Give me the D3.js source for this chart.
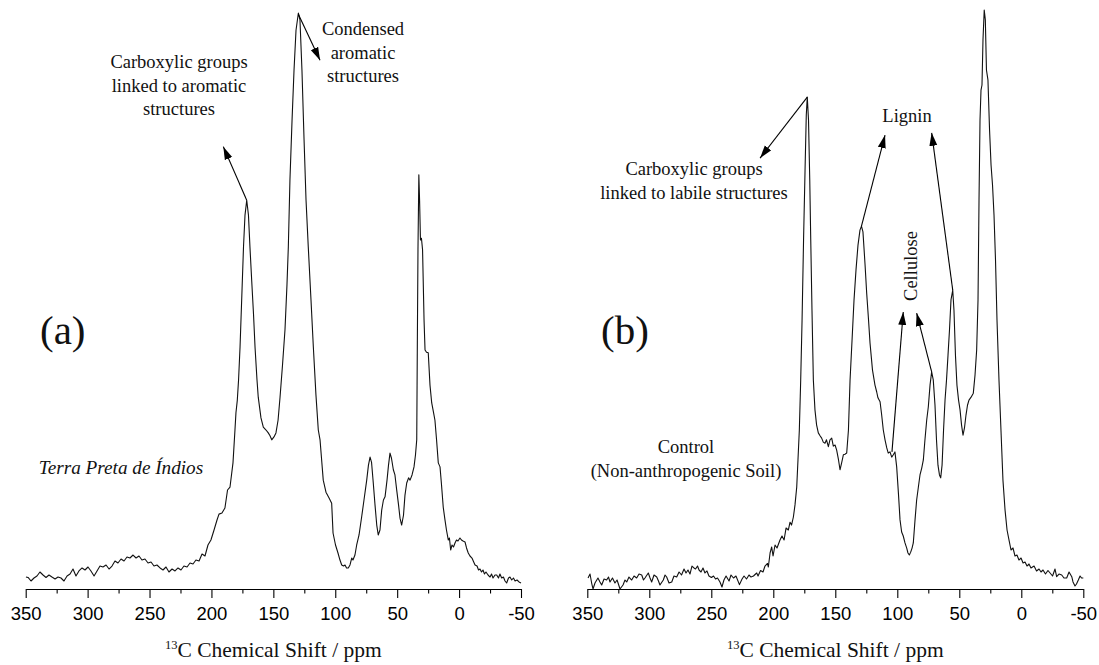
<!DOCTYPE html>
<html><head><meta charset="utf-8">
<script src="https://cdn.jsdelivr.net/npm/d3@7"></script>
<style>body{margin:0;background:#fff} svg{display:block;background:#fff}</style>
</head><body><svg id="c" width="1099" height="665"></svg>
<script>
// ---- DATA ----
// (a) Terra Preta de Índios : [ppm, intensity (a.u., max = 100)]
const spectrumA = [[349.8,2.08],[348.1,2.0],[345.7,1.39],[343.3,1.91],[340.9,2.26],[338.5,2.95],[336.0,2.43],[333.6,2.0],[331.2,2.43],[328.8,2.08],[326.3,1.74],[323.9,2.08],[321.5,1.91],[319.1,1.39],[316.6,2.26],[314.2,2.6],[311.8,3.47],[309.4,2.26],[307.0,3.13],[304.5,3.65],[302.1,3.3],[299.7,3.82],[297.3,3.13],[294.8,2.26],[292.4,3.13],[290.0,3.99],[287.6,3.82],[285.1,4.17],[282.7,3.47],[280.3,3.99],[277.9,4.86],[275.5,4.51],[273.0,5.21],[270.6,4.86],[268.2,5.56],[265.8,5.38],[263.3,5.9],[260.9,5.38],[258.5,5.73],[256.1,5.03],[253.7,5.21],[251.2,4.51],[248.8,4.69],[246.4,3.99],[244.0,4.17],[241.5,3.65],[239.1,3.3],[236.7,3.82],[234.3,2.95],[231.8,3.47],[229.4,3.13],[227.0,3.65],[224.6,3.3],[222.2,3.99],[219.7,3.82],[217.3,4.51],[214.9,4.34],[212.5,5.03],[210.0,4.86],[207.6,6.08],[205.2,5.73],[202.8,7.64],[200.4,8.51],[197.9,10.24],[195.5,11.98],[193.9,13.0],[191.5,13.2],[189.1,14.06],[187.0,17.19],[185.0,17.7],[182.6,21.9],[181.0,27.6],[180.2,30.6],[179.1,32.8],[178.1,36.3],[176.9,42.0],[175.3,51.9],[174.1,59.4],[172.9,64.9],[171.5,67.5],[170.1,64.9],[168.9,59.4],[167.5,53.6],[166.0,47.6],[164.8,42.0],[163.2,36.3],[162.2,33.3],[160.0,29.7],[158.1,28.1],[155.9,27.6],[154.1,27.1],[152.7,26.6],[151.3,25.9],[149.5,26.4],[147.9,27.1],[146.2,29.3],[144.6,33.3],[142.6,38.9],[140.6,45.0],[139.0,52.8],[137.9,59.4],[136.6,71.0],[134.9,81.4],[133.3,90.1],[131.7,97.0],[129.8,100],[128.5,98.8],[126.9,90.1],[125.2,78.0],[123.6,67.5],[121.8,59.4],[119.6,50.2],[117.7,42.0],[115.6,33.7],[113.7,27.6],[112.3,25.9],[111.0,22.4],[109.7,18.9],[107.5,16.8],[105.0,15.8],[102.9,14.9],[101.8,9.72],[99.8,7.64],[97.8,6.25],[96.2,5.03],[94.8,4.17],[93.3,3.99],[92.1,4.17],[90.9,3.65],[89.5,3.65],[88.1,4.17],[86.7,5.38],[85.7,5.03],[84.1,5.9],[82.7,7.64],[80.8,9.38],[78.7,12.5],[76.8,15.45],[74.6,18.9],[73.2,21.5],[71.9,22.9],[70.7,22.0],[69.3,18.4],[67.9,14.6],[66.5,11.1],[65.3,9.38],[63.9,10.24],[62.5,13.7],[61.1,15.45],[59.8,16.0],[58.2,18.9],[57.0,21.5],[55.8,23.6],[54.6,22.7],[53.1,20.7],[51.8,19.8],[50.4,17.2],[48.9,14.6],[47.7,12.3],[46.4,11.1],[44.9,12.8],[43.7,16.3],[42.3,18.4],[40.8,19.3],[39.6,18.9],[38.0,19.8],[36.4,21.2],[35.2,23.3],[34.2,25.9],[33.7,43.2],[33.2,58.9],[32.5,71.9],[31.9,67.5],[31.2,60.6],[30.4,60.9],[29.5,58.9],[28.3,46.7],[27.5,41.5],[26.3,41.1],[24.9,41.0],[23.5,35.4],[22.1,32.3],[20.7,30.7],[19.5,29.3],[18.2,25.9],[16.8,21.9],[15.4,21.2],[14.2,18.1],[12.8,14.2],[11.4,12.0],[10.2,10.24],[8.7,8.5],[7.8,8.85],[6.8,6.77],[5.7,7.64],[4.5,7.29],[3.3,7.99],[2.1,8.5],[0.9,8.33],[-0.7,8.85],[-1.9,8.5],[-3.2,8.33],[-4.8,8.16],[-6.0,7.12],[-7.4,6.25],[-8.8,5.73],[-10.4,5.38],[-11.8,4.69],[-12.9,4.17],[-14.5,3.99],[-15.7,3.3],[-16.9,3.47],[-18.1,2.95],[-19.3,3.3],[-20.5,2.6],[-21.7,2.95],[-23.4,2.43],[-25.0,2.08],[-26.2,2.6],[-27.4,1.91],[-29.0,2.43],[-30.4,2.43],[-31.8,1.91],[-33.0,2.6],[-34.4,1.91],[-35.8,2.08],[-37.1,1.39],[-38.4,1.04],[-39.9,1.91],[-41.1,2.08],[-42.5,1.56],[-43.9,1.91],[-45.2,1.39],[-46.8,1.56],[-48.4,1.22],[-50.0,1.04]];

// (b) Control (non-anthropogenic soil)
const spectrumB = [[349.4,1.91],[347.8,2.6],[346.5,1.04],[345.4,0],[343.8,1.04],[341.4,1.91],[339.8,1.22],[338.4,0.69],[336.5,1.74],[334.4,1.56],[332.9,2.08],[331.7,1.22],[329.7,1.91],[327.7,1.04],[326.0,1.56],[323.6,0],[321.2,0.69],[319.6,1.56],[318.2,1.22],[316.4,2.08],[314.2,1.56],[312.3,2.26],[310.2,1.91],[308.3,2.6],[306.1,2.43],[304.7,1.56],[303.5,1.91],[300.8,2.78],[299.4,1.91],[298.1,1.22],[296.2,2.43],[294.0,2.08],[292.6,1.39],[291.4,0.69],[288.7,1.56],[287.3,2.43],[286.0,2.08],[284.1,1.04],[281.9,1.22],[280.1,2.26],[277.9,2.08],[276.0,2.95],[274.0,2.43],[272.0,3.47],[270.4,2.78],[268.8,3.3],[267.2,2.6],[265.6,3.99],[264.0,3.65],[262.7,3.47],[261.1,3.99],[259.9,3.3],[258.3,2.95],[256.7,3.65],[255.1,2.78],[253.5,3.13],[251.9,2.26],[249.9,2.0],[248.2,2.26],[246.6,1.74],[245.0,1.91],[243.0,1.22],[241.4,0.35],[239.8,1.56],[238.1,2.26],[235.7,1.39],[234.1,2.43],[232.1,1.91],[230.1,2.26],[227.3,0.76],[225.2,1.74],[223.6,2.26],[221.6,1.74],[219.6,2.43],[218.0,2.08],[216.0,2.26],[213.4,2.78],[212.3,2.26],[210.3,3.21],[208.3,2.95],[206.7,3.99],[204.7,4.43],[204.0,3.82],[202.6,6.25],[201.3,7.29],[200.2,5.73],[198.6,7.64],[197.0,7.12],[194.6,8.51],[193.0,9.2],[191.3,8.51],[189.7,10.6],[187.9,10.24],[186.5,11.6],[185.3,11.1],[183.8,12.5],[182.5,14.6],[181.1,17.7],[180.1,22.4],[179.0,27.6],[177.9,36.3],[176.8,46.7],[175.6,60.6],[174.4,72.7],[173.4,82.3],[172.6,85.4],[171.6,81.4],[170.6,71.0],[169.8,60.6],[168.8,48.4],[167.7,36.3],[166.4,31.1],[165.1,28.5],[163.7,27.1],[162.3,26.6],[161.0,26.2],[159.7,25.5],[158.3,25.3],[157.1,25.9],[155.6,24.7],[154.3,25.9],[152.9,26.2],[151.6,24.8],[150.2,25.0],[148.9,24.1],[147.4,22.4],[146.2,20.7],[144.8,22.0],[143.5,23.3],[142.2,23.4],[140.8,23.6],[139.4,27.6],[138.1,36.3],[136.5,43.2],[134.9,50.2],[133.3,55.4],[131.7,59.7],[130.1,62.3],[128.9,63.0],[127.7,62.0],[126.0,56.3],[124.7,51.4],[123.2,46.7],[122.0,42.7],[120.0,38.0],[118.0,35.4],[116.6,34.2],[115.6,33.2],[113.9,32.5],[112.6,30.2],[111.3,27.6],[109.9,25.9],[108.5,24.5],[107.3,23.6],[105.9,23.8],[104.5,22.9],[103.2,23.3],[101.9,23.8],[100.5,21.2],[99.0,16.3],[97.8,12.0],[96.5,9.9],[95.2,9.2],[93.8,8.0],[92.4,7.1],[91.4,6.25],[90.3,5.9],[89.2,6.4],[88.1,7.1],[87.1,8.0],[85.7,12.0],[84.4,15.45],[83.0,17.7],[81.7,19.8],[80.3,21.0],[79.0,22.4],[77.7,25.9],[76.3,29.3],[75.0,31.6],[73.6,35.4],[72.3,37.7],[71.0,36.3],[69.6,31.9],[68.4,25.9],[67.2,21.5],[66.0,19.8],[65.0,19.3],[63.9,21.5],[62.7,27.6],[61.5,32.8],[60.3,36.3],[59.1,40.6],[57.9,45.0],[56.7,50.2],[55.3,51.9],[54.3,48.4],[53.1,40.6],[51.9,35.4],[50.6,32.8],[49.4,31.1],[48.2,28.5],[47.0,26.7],[45.8,28.0],[44.6,30.2],[43.4,31.9],[42.2,32.8],[40.5,33.3],[38.7,34.0],[37.3,37.2],[36.0,41.5],[34.9,50.2],[34.1,67.5],[33.3,81.4],[32.5,86.6],[31.7,87.5],[30.9,95.3],[29.9,100.5],[29.0,98.8],[28.1,90.1],[26.9,88.4],[25.6,79.7],[24.4,73.6],[23.2,70.1],[22.0,64.9],[20.8,57.1],[19.6,46.7],[18.0,36.3],[16.4,27.6],[14.8,18.9],[13.1,13.7],[11.5,10.24],[9.9,8.5],[8.3,6.77],[6.7,7.12],[5.1,5.73],[3.5,5.9],[1.9,5.03],[0.2,5.38],[-1.4,4.51],[-3.0,4.69],[-4.6,3.99],[-6.2,4.34],[-7.8,3.65],[-10.3,3.99],[-12.3,3.13],[-14.3,3.47],[-15.9,2.95],[-17.5,3.3],[-19.5,2.6],[-21.5,3.21],[-23.2,2.78],[-25.2,2.26],[-27.2,3.47],[-28.5,2.14],[-30.4,2.6],[-32.6,2.43],[-34.4,1.91],[-36.6,1.91],[-38.5,2.95],[-40.7,2.14],[-41.7,1.22],[-43.3,0.52],[-44.5,0.87],[-46.0,1.56],[-47.4,2.26],[-48.6,1.91],[-50.0,1.91]];

const majorTicks = [350,300,250,200,150,100,50,0,-50];
const minorTicks = [325,275,225,175,125,75,25,-25];
const axisTitleSup = "13";
const axisTitleMain = "C Chemical Shift / ppm";
const panelLabels = ["(a)", "(b)"];

// arrows: [from ppm, from intensity, to ppm, to intensity]
const arrowsA = [[171.5,67.5,190.4,76.8],[129.8,99.8,112.3,91.8]];
const arrowsB = [[172.6,85.4,210.7,74.8],[128.9,63.0,109.9,78.8],[55.3,51.9,72.3,79.2],[104.3,23.8,95.2,48.1],[72.3,37.7,84.4,47.9]];

const textA = [
  {lines:["Carboxylic groups","linked to aromatic","structures"], x:179, y:68},
  {lines:["Condensed","aromatic","structures"], x:363, y:35}
];
const textB = [
  {lines:["Carboxylic groups","linked to labile structures"], x:694, y:175},
  {lines:["Lignin"], x:907, y:122},
  {lines:["Control","(Non-anthropogenic Soil)"], x:686, y:453}
];

// ---- DRAW ----
const svg = d3.select("#c");
const serif = "'Liberation Serif','Times New Roman',Times,serif";
const sans = "'Liberation Sans',Arial,Helvetica,sans-serif";

svg.append("defs").append("marker")
  .attr("id","ah").attr("markerUnits","userSpaceOnUse")
  .attr("markerWidth",14).attr("markerHeight",10)
  .attr("viewBox","0 0 14 10").attr("refX",13).attr("refY",5)
  .attr("orient","auto")
  .append("path").attr("d","M0,1 L13,5 L0,9 Z").attr("fill","#000");

const panels = [
  {data:spectrumA, x0:25.7, x1:521, arrows:arrowsA, texts:textA, label:panelLabels[0], lx:40},
  {data:spectrumB, x0:587.3, x1:1083.3, arrows:arrowsB, texts:textB, label:panelLabels[1], lx:601}
];
const axisY = 589;
const y = d3.scaleLinear().domain([0,100]).range([axisY, 13]);

panels.forEach((p,i) => {
  const x = d3.scaleLinear().domain([350,-50]).range([p.x0,p.x1]);
  const g = svg.append("g");

  const ax = g.append("g").attr("transform",`translate(0,${axisY})`)
    .call(d3.axisBottom(x).tickValues(majorTicks).tickSize(9).tickSizeOuter(0).tickPadding(9).tickFormat(d=>String(d)));
  ax.select(".domain").attr("stroke","#000").attr("stroke-width",1.1);
  ax.selectAll(".tick line").attr("stroke","#000").attr("stroke-width",1.1);
  ax.selectAll(".tick text").attr("font-family",sans).attr("font-size",18.5).attr("fill","#000");

  const mx = g.append("g").attr("transform",`translate(0,${axisY})`)
    .call(d3.axisBottom(x).tickValues(minorTicks).tickSize(4.5).tickSizeOuter(0).tickFormat(""));
  mx.select(".domain").remove();
  mx.selectAll(".tick line").attr("stroke","#000").attr("stroke-width",1.1);

  const line = d3.line().x(d=>x(d[0])).y(d=>y(d[1]));
  g.append("path").datum(p.data).attr("d",line)
    .attr("fill","none").attr("stroke","#111").attr("stroke-width",1.1).attr("stroke-linejoin","round");

  p.arrows.forEach(a => {
    g.append("line").attr("x1",x(a[0])).attr("y1",y(a[1])).attr("x2",x(a[2])).attr("y2",y(a[3]))
      .attr("stroke","#000").attr("stroke-width",1.1).attr("marker-end","url(#ah)");
  });

  p.texts.forEach(t => {
    const tx = g.append("text").attr("x",t.x).attr("y",t.y).attr("text-anchor","middle")
      .attr("font-family",serif).attr("font-size",18.5).attr("fill","#111");
    t.lines.forEach((l,j) => tx.append("tspan").attr("x",t.x).attr("dy", j===0?0:23.5).text(l));
  });

  g.append("text").attr("x",p.lx).attr("y",344).attr("font-family",serif).attr("font-size",41)
    .attr("fill","#111").text(p.label);

  const cx = (p.x0+p.x1)/2;
  const tt = g.append("text").attr("x",cx).attr("y",657).attr("text-anchor","middle")
    .attr("font-family",serif).attr("font-size",21.5).attr("fill","#111");
  tt.append("tspan").attr("font-size",12.5).attr("dy",-8).text(axisTitleSup);
  tt.append("tspan").attr("dy",8).text(axisTitleMain);
});

svg.append("text").attr("x",121).attr("y",474).attr("text-anchor","middle")
  .attr("font-family",serif).attr("font-style","italic").attr("font-size",19.2).attr("fill","#111")
  .text("Terra Preta de Índios");

svg.append("text").attr("transform","translate(917,266) rotate(-90)").attr("text-anchor","middle")
  .attr("font-family",serif).attr("font-size",18.5).attr("fill","#111").text("Cellulose");
</script>
</body></html>
